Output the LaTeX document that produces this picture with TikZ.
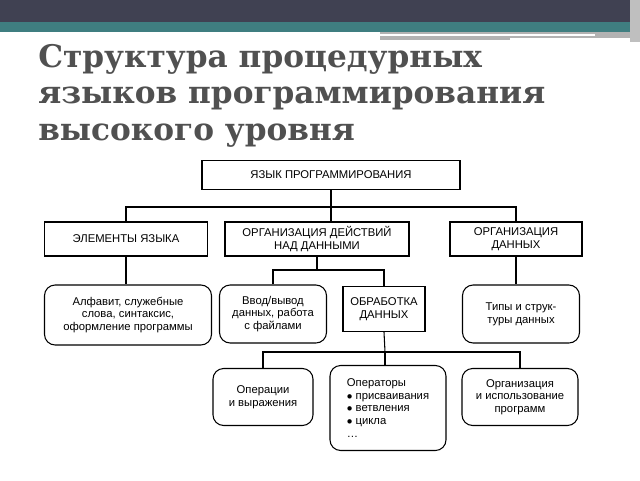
\documentclass[tikz,border=0pt]{standalone}
\usepackage{fontspec}
\setmainfont{Liberation Serif}
\setsansfont{Liberation Sans}
\newfontfamily\titlefont{DejaVu Serif}
\usetikzlibrary{positioning}
\definecolor{bardark}{HTML}{404152}
\definecolor{barteal}{HTML}{3F7E80}
\definecolor{titlegrey}{HTML}{505050}
\begin{document}
\begin{tikzpicture}[x=0.0265cm,y=-0.0265cm,
		sqbox/.style={rectangle,draw,thick,font=\sffamily\fontsize{8.5}{9.5}\selectfont,align=center,inner sep=1pt},
		rndbox/.style={rectangle,rounded corners=8pt,draw,thick,font=\sffamily\fontsize{8.5}{9.5}\selectfont,align=center,inner sep=1pt},
		tree/.style={thick}
		]
		\useasboundingbox (0,0) rectangle (640,480);
		% header bars
		\fill[bardark] (0,0) rectangle (640,22);
		\fill[barteal] (0,22) rectangle (640,32);
		\fill[gray!60] (380,32) rectangle (640,40);
		\draw[white,line width=1pt] (380,35) -- (595,35);
		\draw[white,line width=1pt] (510,39) -- (630,39);
		\fill[gray!50] (630,0) rectangle (640,42);
		% title
		\node[anchor=north west,align=left,text=titlegrey,font=\titlefont\bfseries\fontsize{23.5}{27.5}\selectfont,inner sep=0pt] (title) at (38,44)
		{Структура процедурных\\языков программирования\\высокого уровня};
		% boxes
		\node[sqbox,minimum width=258*0.0265cm,minimum height=29*0.0265cm] (lang) at (331,175) {ЯЗЫК ПРОГРАММИРОВАНИЯ};
		\node[sqbox,minimum width=163*0.0265cm,minimum height=34*0.0265cm] (elem) at (126,239) {ЭЛЕМЕНТЫ ЯЗЫКА};
		\node[sqbox,minimum width=184*0.0265cm,minimum height=34*0.0265cm] (act) at (317,239) {ОРГАНИЗАЦИЯ ДЕЙСТВИЙ\\НАД ДАННЫМИ};
		\node[sqbox,minimum width=132*0.0265cm,minimum height=34*0.0265cm] (dat) at (516,239) {ОРГАНИЗАЦИЯ\\ДАННЫХ};
		\node[rndbox,minimum width=167*0.0265cm,minimum height=60*0.0265cm] (alph) at (128,315) {Алфавит, служебные\\слова, синтаксис,\\оформление программы};
		\node[rndbox,minimum width=107*0.0265cm,minimum height=58*0.0265cm] (io) at (273,314) {Ввод/вывод\\данных, работа\\с файлами};
		\node[sqbox,minimum width=82*0.0265cm,minimum height=45*0.0265cm] (proc) at (384,309) {ОБРАБОТКА\\ДАННЫХ};
		\node[rndbox,minimum width=117*0.0265cm,minimum height=58*0.0265cm] (types) at (521,314) {Типы и струк-\\туры данных};
		\node[rndbox,minimum width=100*0.0265cm,minimum height=57*0.0265cm] (ops) at (263,397) {Операции\\и выражения};
		\node[rndbox,minimum width=116*0.0265cm,minimum height=85*0.0265cm,align=left] (stmt) at (388,408)
		{Операторы\\$\bullet$ присваивания\\$\bullet$ ветвления\\$\bullet$ цикла\\\ldots};
		\node[rndbox,minimum width=116*0.0265cm,minimum height=57*0.0265cm] (prog) at (520,397) {Организация\\и использование\\программ};
		% connectors
		\coordinate (j1) at (331,207);
		\draw[tree] (lang.south) -- (j1);
		\draw[tree] (elem.north) |- (j1) -| (dat.north);
		\draw[tree] (j1) -- (act.north -| j1);
		\coordinate (j2) at (317,270);
		\draw[tree] (act.south) -- (j2);
		\draw[tree] (io.north) |- (j2) -| (proc.north);
		\draw[tree] (elem.south) -- (alph.north -| elem.south);
		\draw[tree] (dat.south) -- (types.north -| dat.south);
		\coordinate (j3) at (385,352);
		\draw[tree] (proc.south) -- (j3);
		\draw[tree] (ops.north) |- (j3) -| (prog.north);
		\draw[tree] (j3) -- (stmt.north -| j3);
\end{tikzpicture}
\end{document}
